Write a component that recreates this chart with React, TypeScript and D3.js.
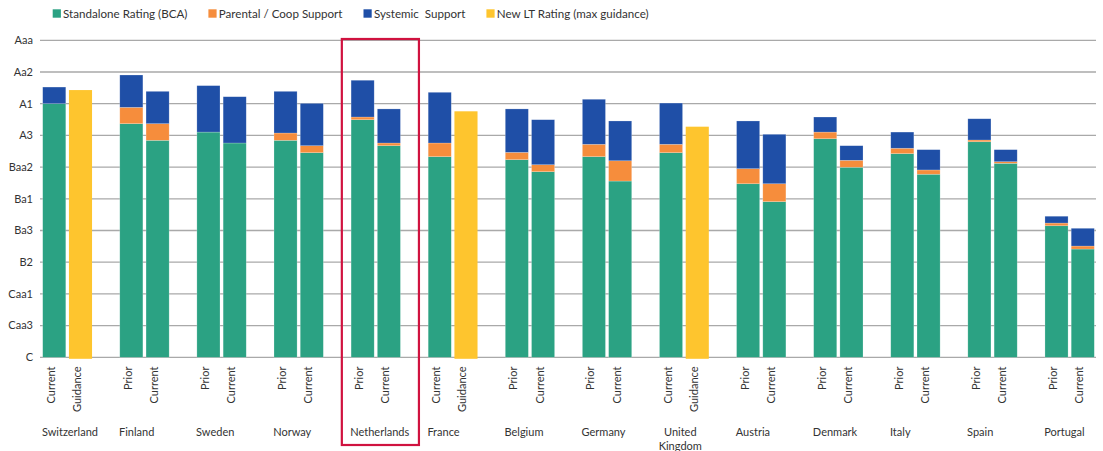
import React, { useEffect, useRef } from "react";
import * as d3 from "d3";

// Rating scale in notches: C = 0 ... Aaa = 20
const ratingTicks = ["C", "Caa3", "Caa1", "B2", "Ba3", "Ba1", "Baa2", "A3", "A1", "Aa2", "Aaa"];

const countries = [
  "Switzerland", "Finland", "Sweden", "Norway", "Netherlands", "France", "Belgium",
  "Germany", "United\nKingdom", "Austria", "Denmark", "Italy", "Spain", "Portugal",
];

// Two bars per country, in order
const barLabels = [
  "Current", "Guidance", "Prior", "Current", "Prior", "Current", "Prior", "Current",
  "Prior", "Current", "Current", "Guidance", "Prior", "Current", "Prior", "Current",
  "Current", "Guidance", "Prior", "Current", "Prior", "Current", "Prior", "Current",
  "Prior", "Current", "Prior", "Current",
];

const standalone = [
  16.0, 0, 14.74, 13.69, 14.21, 13.52, 13.69, 12.91,
  14.99, 13.35, 12.66, 0, 12.47, 11.71, 12.66, 11.12,
  12.91, 0, 10.95, 9.82, 13.79, 11.99, 12.85, 11.55,
  13.6, 12.24, 8.3, 6.83,
];

const parental = [
  0, 0, 1.03, 1.05, 0, 0, 0.46, 0.44,
  0.17, 0.17, 0.86, 0, 0.46, 0.44, 0.78, 1.28,
  0.53, 0, 0.95, 1.13, 0.42, 0.44, 0.34, 0.27,
  0.11, 0.1, 0.17, 0.19,
];

const systemic = [
  1.05, 0, 2.04, 2.04, 2.93, 2.92, 2.63, 2.67,
  2.32, 2.15, 3.2, 0, 2.74, 2.84, 2.84, 2.51,
  2.6, 0, 3.01, 3.12, 0.95, 0.92, 1.02, 1.28,
  1.34, 0.76, 0.43, 1.12,
];

const guidance: (number | null)[] = [
  null, 16.86, null, null, null, null, null, null,
  null, null, null, 15.52, null, null, null, null,
  null, 14.55, null, null, null, null, null, null,
  null, null, null, null,
];

const seriesKeys = ["standalone", "parental", "systemic"];
const legendLabels = [
  "Standalone Rating (BCA)",
  "Parental / Coop Support",
  "Systemic  Support",
  "New LT Rating (max guidance)",
];
const highlighted = "Netherlands";

const W = 1103;
const H = 451;
const COLORS: Record<string, string> = {
  standalone: "#2ba283",
  parental: "#f68d3c",
  systemic: "#1f4fa7",
  guidance: "#fec52e",
};
const FONT = "Lato, 'Open Sans', sans-serif";
const TEXT = "#333333";
const GRID = "#a9a9a9";

export default function App() {
  const ref = useRef<SVGSVGElement | null>(null);

  useEffect(() => {
    const svg = d3.select(ref.current);
    svg.selectAll("*").remove();

    const y = d3.scaleLinear().domain([0, 20]).range([357.3, 40.3]);
    const xGroup = d3
      .scaleBand<string>()
      .domain(countries)
      .range([42.7, 1094.3])
      .paddingInner(0.36)
      .paddingOuter(0);
    const xBar = d3
      .scaleBand<string>()
      .domain(["0", "1"])
      .range([0, xGroup.bandwidth()])
      .paddingInner(0.12);

    const rows = barLabels.map((label, i) => ({
      country: countries[Math.floor(i / 2)],
      slot: String(i % 2),
      label,
      standalone: standalone[i],
      parental: parental[i],
      systemic: systemic[i],
      guidance: guidance[i],
    }));
    const barX = (r: (typeof rows)[number]) => (xGroup(r.country) ?? 0) + (xBar(r.slot) ?? 0);

    // Gridlines
    const grid = svg.append("g");
    grid
      .selectAll("line")
      .data(ratingTicks)
      .join("line")
      .attr("x1", 40)
      .attr("x2", 1096)
      .attr("y1", (_d, i) => y(i * 2))
      .attr("y2", (_d, i) => y(i * 2))
      .attr("stroke", GRID)
      .attr("stroke-width", 1.3);

    // Y tick labels
    svg
      .append("g")
      .selectAll("text")
      .data(ratingTicks)
      .join("text")
      .attr("x", 33)
      .attr("y", (_d, i) => y(i * 2))
      .attr("dy", "0.35em")
      .attr("text-anchor", "end")
      .attr("font-family", FONT)
      .attr("font-size", 11)
      .attr("fill", TEXT)
      .text((d) => d);

    // Stacked bars
    const stacked = d3.stack<any>().keys(seriesKeys)(rows);
    const bars = svg.append("g");
    stacked.forEach((layer) => {
      bars
        .append("g")
        .selectAll("rect")
        .data(layer.filter((d) => d[1] - d[0] > 0))
        .join("rect")
        .attr("x", (d) => barX(d.data))
        .attr("width", xBar.bandwidth())
        .attr("y", (d) => y(d[1]))
        .attr("height", (d) => y(d[0]) - y(d[1]))
        .attr("fill", COLORS[layer.key])
        .attr("stroke", "#ffffff")
        .attr("stroke-opacity", 0.35)
        .attr("stroke-width", 0.6);
    });

    // Guidance bars
    bars
      .append("g")
      .selectAll("rect")
      .data(rows.filter((r) => r.guidance !== null))
      .join("rect")
      .attr("x", (d) => barX(d))
      .attr("width", xBar.bandwidth())
      .attr("y", (d) => y(d.guidance as number))
      .attr("height", (d) => y(0) - y(d.guidance as number) + 1.5)
      .attr("fill", COLORS.guidance);

    // Rotated bar labels
    svg
      .append("g")
      .selectAll("text")
      .data(rows)
      .join("text")
      .attr(
        "transform",
        (d) => `translate(${barX(d) + xBar.bandwidth() / 2 + 0.5},366.5) rotate(-90)`
      )
      .attr("text-anchor", "end")
      .attr("font-family", FONT)
      .attr("font-size", 11)
      .attr("fill", TEXT)
      .text((d) => d.label);

    // Country labels (left-aligned at the group; multi-line labels centred on their widest line)
    const countryG = svg.append("g");
    countries.forEach((c) => {
      const lines = c.split("\n");
      const x0 = (xGroup(c) ?? 0) - 0.8;
      const t = countryG
        .append("text")
        .attr("font-family", FONT)
        .attr("font-size", 11)
        .attr("fill", TEXT)
        .attr("y", 436);
      lines.forEach((line, li) => {
        t.append("tspan")
          .attr("x", x0)
          .attr("dy", li === 0 ? 0 : 13.5)
          .text(line);
      });
      if (lines.length > 1) {
        const widths = t
          .selectAll<SVGTSpanElement, unknown>("tspan")
          .nodes()
          .map((n) => n.getComputedTextLength());
        const w = d3.max(widths) ?? 0;
        t.attr("text-anchor", "middle");
        t.selectAll("tspan").attr("x", x0 + w / 2);
      }
    });

    // Legend
    const legend = svg.append("g");
    const legendColors = [COLORS.standalone, COLORS.parental, COLORS.systemic, COLORS.guidance];
    let lx = 52.7;
    legendLabels.forEach((label, i) => {
      legend
        .append("rect")
        .attr("x", lx)
        .attr("y", 9.3)
        .attr("width", 8.2)
        .attr("height", 8.4)
        .attr("fill", legendColors[i]);
      const t = legend
        .append("text")
        .attr("x", lx + 10.4)
        .attr("y", 18.3)
        .attr("font-family", FONT)
        .attr("font-size", 11.6)
        .attr("fill", TEXT)
        .style("white-space", "pre")
        .text(label);
      lx += 10.4 + (t.node() as SVGTextElement).getComputedTextLength() + 21;
    });

    // Highlight box around one country
    const hx = (xGroup(highlighted) ?? 0) - xGroup.step() * 0.12;
    svg
      .append("rect")
      .attr("x", hx)
      .attr("y", 39)
      .attr("width", xGroup.step())
      .attr("height", 406)
      .attr("fill", "none")
      .attr("stroke", "#d0123f")
      .attr("stroke-width", 2.2);
  }, []);

  return (
    <svg
      ref={ref}
      width={W}
      height={H}
      style={{ position: "absolute", left: 0, top: 0, background: "#ffffff" }}
    />
  );
}
